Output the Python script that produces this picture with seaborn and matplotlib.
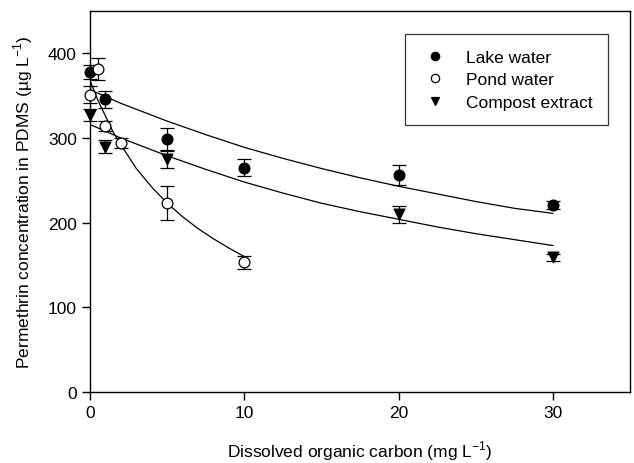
import numpy as np
import pandas as pd
import matplotlib
matplotlib.use("Agg")
import matplotlib.pyplot as plt
from matplotlib.lines import Line2D
import seaborn as sns

lake_x = [0, 1, 5, 10, 20, 30]
lake_y = [378, 346, 299, 265, 256, 221]
lake_err = [8, 10, 13, 10, 12, 5]

pond_x = [0, 0.5, 1, 2, 5, 10]
pond_y = [351, 381, 314, 294, 223, 153]
pond_err = [10, 13, 6, 6, 20, 8]

compost_x = [0, 1, 5, 20, 30]
compost_y = [327, 290, 275, 210, 159]
compost_err = [7, 8, 10, 10, 4]

# Fitted curves
lake_fit_x = [0, 1, 2, 3, 5, 7.5, 10, 12.5, 15, 17.5, 20, 22.5, 25, 27.5, 30]
lake_fit_y = [357, 349, 341, 334, 320, 304, 289, 276, 264, 253, 243, 234, 225, 217, 211]

compost_fit_x = [0, 1, 2, 3, 5, 7.5, 10, 12.5, 15, 17.5, 20, 22.5, 25, 27.5, 30]
compost_fit_y = [316, 308, 300, 293, 279, 263, 248, 235, 223, 213, 204, 195, 187, 180, 173]

pond_fit_x = [0, 0.5, 1, 1.5, 2, 3, 4, 5, 6, 7, 8, 9, 10]
pond_fit_y = [368, 345, 326, 307, 292, 264, 242, 223, 207, 193, 181, 170, 160]

x_ticks = [0, 10, 20, 30]
y_ticks = [0, 100, 200, 300, 400]

series = [
    ("Lake water", lake_x, lake_y, lake_err, lake_fit_x, lake_fit_y, "o", "black"),
    ("Pond water", pond_x, pond_y, pond_err, pond_fit_x, pond_fit_y, "o", "white"),
    ("Compost extract", compost_x, compost_y, compost_err, compost_fit_x, compost_fit_y, "v", "black"),
]

sns.set_theme(style="ticks")
plt.rcParams["font.family"] = ["Liberation Sans", "DejaVu Sans"]
plt.rcParams["mathtext.fontset"] = "custom"
plt.rcParams["mathtext.rm"] = "Liberation Sans"
plt.rcParams["text.color"] = "black"
plt.rcParams["axes.labelcolor"] = "black"

fig = plt.figure(figsize=(6.34, 4.64), dpi=100)
ax = fig.add_axes([0.142, 0.153, 0.852, 0.821])

handles = []
for name, xs, ys, errs, fx, fy, marker, face in series:
    fit_df = pd.DataFrame({"x": fx, "y": fy})
    sns.lineplot(data=fit_df, x="x", y="y", ax=ax, color="black", lw=0.9,
                 sort=False, estimator=None, zorder=2)
    eb = ax.errorbar(xs, ys, yerr=errs, fmt="none", ecolor="black", elinewidth=0.9,
                     capsize=5, capthick=0.9, zorder=3)
    for art in eb.lines[1] + eb.lines[2]:
        art.set_clip_on(False)
    pts = pd.DataFrame({"x": xs, "y": ys})
    sns.scatterplot(data=pts, x="x", y="y", ax=ax, marker=marker, s=60,
                    color=face, edgecolor="black", linewidth=0.9, zorder=4,
                    clip_on=False)
    handles.append(Line2D([], [], ls="none", marker=marker, markersize=6,
                          markerfacecolor=face, markeredgecolor="black",
                          markeredgewidth=0.9, label=name))

ax.set_xlim(0, 35)
ax.set_ylim(0, 450)
ax.set_xticks(x_ticks)
ax.set_yticks(y_ticks)
for sp in ax.spines.values():
    sp.set_color("black")
    sp.set_linewidth(1.0)
ax.tick_params(axis="both", direction="out", length=6, width=1.0,
               labelsize=12.5, colors="black", top=False, right=False)

ax.set_xlabel("Dissolved organic carbon (mg L$^{-1}$)", fontsize=12.5, labelpad=13)
ax.set_ylabel("Permethrin concentration in PDMS (µg L$^{-1}$)", fontsize=12.5, labelpad=9)

leg = ax.legend(handles=handles, loc="upper right", bbox_to_anchor=(0.959, 0.94),
                fontsize=12.5, frameon=True, fancybox=False, edgecolor="black",
                handlelength=1.7, handletextpad=0.9, borderpad=0.9,
                labelspacing=0.42, borderaxespad=0)
leg.get_frame().set_linewidth(0.9)

fig.savefig("out.png", dpi=100)
